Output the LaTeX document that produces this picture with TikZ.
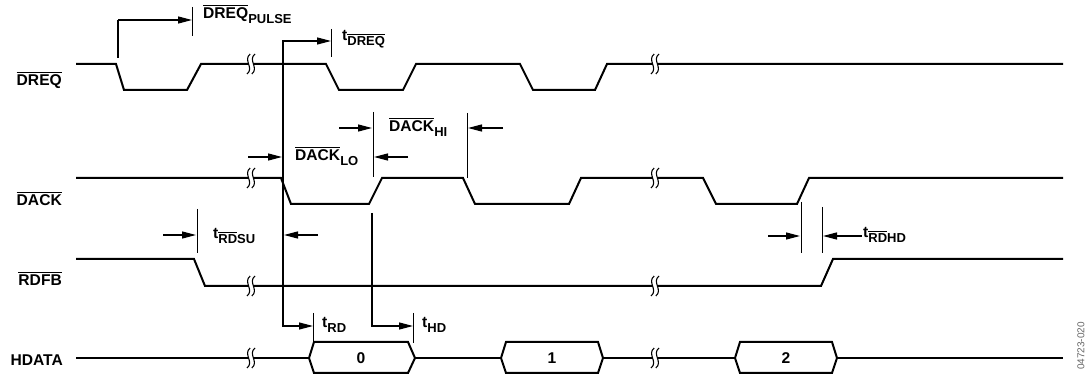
\documentclass[tikz,border=0pt]{standalone}
\usepackage{fontspec}
\setmainfont{Liberation Sans}
\usetikzlibrary{arrows.meta}
\newcommand\ovl[1]{\setbox0\hbox{#1}\rlap{\rule[\dimexpr\ht0+1.8pt\relax]{\wd0}{1.2pt}}\box0}
\newcommand\lsub[1]{\raisebox{-5pt}{\fontsize{13}{14}\selectfont #1}}
\begin{document}
\begin{tikzpicture}[x=1pt,y=-1pt,
  font=\fontsize{15.6}{18}\selectfont\bfseries,
  wave/.style={line width=2pt, line join=miter},
  ann/.style={line width=1.1pt},
  tickline/.style={line width=0.9pt},
  arr/.style={line width=1.3pt, -{Triangle[length=14pt,width=7pt]}},
  arrs/.style={line width=1.2pt, {Triangle[length=14pt,width=7pt]}-{Triangle[length=14pt,width=7pt]}},
  lbl/.style={anchor=base west, inner sep=0pt},
  sig/.style={anchor=base east, inner sep=0pt},
  brk/.pic={
    \fill[white] (-2.2,-6) rectangle (2.2,6);
    \foreach \dx in {-2.4,2.4}
      \draw[line width=1.1pt] (\dx+1.6,-10) .. controls (\dx-6,-4) and (\dx+6,4) .. (\dx-1.6,10);
  }]
\useasboundingbox (0,0) rectangle (1085,379);

% signal names
\node[sig] (nDREQ) at (62,86) {\ovl{DREQ}};
\node[sig] (nDACK) at (62,206) {\ovl{DACK}};
\node[sig] (nRDFB) at (62,286) {\ovl{RDFB}};
\node[sig] (nHDATA) at (63,366) {HDATA};

% waveforms
\draw[wave] (76,64) -- (116,64) -- (124,90) -- (187,90) -- (201,64) -- (326,64) -- (339,90) -- (403,90) -- (416,64) -- (520,64) -- (533,90) -- (595,90) -- (607,64) -- (1063,64);
\draw[wave] (76,178) -- (281,178) -- (291,204) -- (369,204) -- (382,178) -- (463,178) -- (475,204) -- (569,204) -- (581,178) -- (703,178) -- (716,204) -- (797,204) -- (809,178) -- (1063,178);
\draw[wave] (76,259) -- (194,259) -- (205,286) -- (821,286) -- (833,259) -- (1063,259);
\draw[wave] (76,358) -- (309,358) (415,358) -- (501,358) (603,358) -- (735,358) (837,358) -- (1063,358);
\draw[wave] (309,358) -- (314,342) -- (408,342) -- (415,358) -- (408,373) -- (314,373) -- cycle;
\draw[wave] (501,358) -- (506,342) -- (598,342) -- (603,358) -- (598,373) -- (506,373) -- cycle;
\draw[wave] (735,358) -- (740,342) -- (832,342) -- (837,358) -- (832,373) -- (740,373) -- cycle;
\node (d0) at (361,358) {0};
\node (d1) at (552,358) {1};
\node (d2) at (786,358) {2};

% breaks
\foreach \yy in {64,178,286,358}
  \foreach \xx in {251,655}
    \pic at (\xx,\yy) {brk};

% DREQ pulse
\coordinate (pA) at (118,58);
\coordinate (pB) at (118,20);
\coordinate (pC) at (192,20);
\draw[ann] (pA) -- (pB);
\draw[arr] (pB) -- (pC);
\draw[tickline] (192,7) -- (192,36);
\node[lbl] (lPulse) at (203,19) {\ovl{DREQ}\lsub{PULSE}};

% t_DREQ / t_RD long line
\coordinate (qA) at (331,41);
\coordinate (qB) at (283,41);
\coordinate (qC) at (283,326);
\coordinate (qD) at (313,326);
\draw[arrs] (qA) -- (qB) -- (qC) -- (qD);
\draw[tickline] (331,29) -- (331,57);
\node[lbl] (lDREQ) at (342,41) {t\lsub{\ovl{DREQ}}};

% DACK_LO
\draw[arr] (248,157) -- (282,157);
\draw[arr] (408,157) -- (374,157);
\draw[tickline] (373,112) -- (373,177);
\node[lbl] (lLO) at (295,161) {\ovl{DACK}\lsub{LO}};

% DACK_HI
\draw[arr] (339,128) -- (372,128);
\draw[arr] (503,128) -- (468,128);
\draw[tickline] (467,113) -- (467,178);
\node[lbl] (lHI) at (389,132) {\ovl{DACK}\lsub{HI}};

% t_HD line
\coordinate (hA) at (372,213);
\coordinate (hB) at (372,326);
\coordinate (hC) at (413,326);
\draw[arr] (hA) -- (hB) -- (hC);
\draw[tickline] (313,313) -- (313,342);
\draw[tickline] (413,313) -- (413,343);
\node[lbl] (lRD) at (322,328) {t\lsub{RD}};
\node[lbl] (lHD) at (422,328) {t\lsub{HD}};

% t_RDSU
\draw[arr] (163,235) -- (196,235);
\draw[tickline] (197,209) -- (197,253);
\draw[arr] (318,235) -- (284,235);
\node[lbl] (lRDSU) at (213,239) {t\lsub{\ovl{RD}SU}};

% t_RDHD
\draw[arr] (768,236) -- (800,236);
\draw[tickline] (801,202) -- (801,253);
\draw[tickline] (822,207) -- (822,253);
\draw[arr] (862,236) -- (823,236);
\node[lbl] (lRDHD) at (863,238) {t\lsub{\ovl{RD}HD}};

% figure id
\node[rotate=90, inner sep=0pt, text=black!60, font=\fontsize{10}{12}\selectfont] (fid) at (1081,346) {04723-020};
\end{tikzpicture}
\end{document}
